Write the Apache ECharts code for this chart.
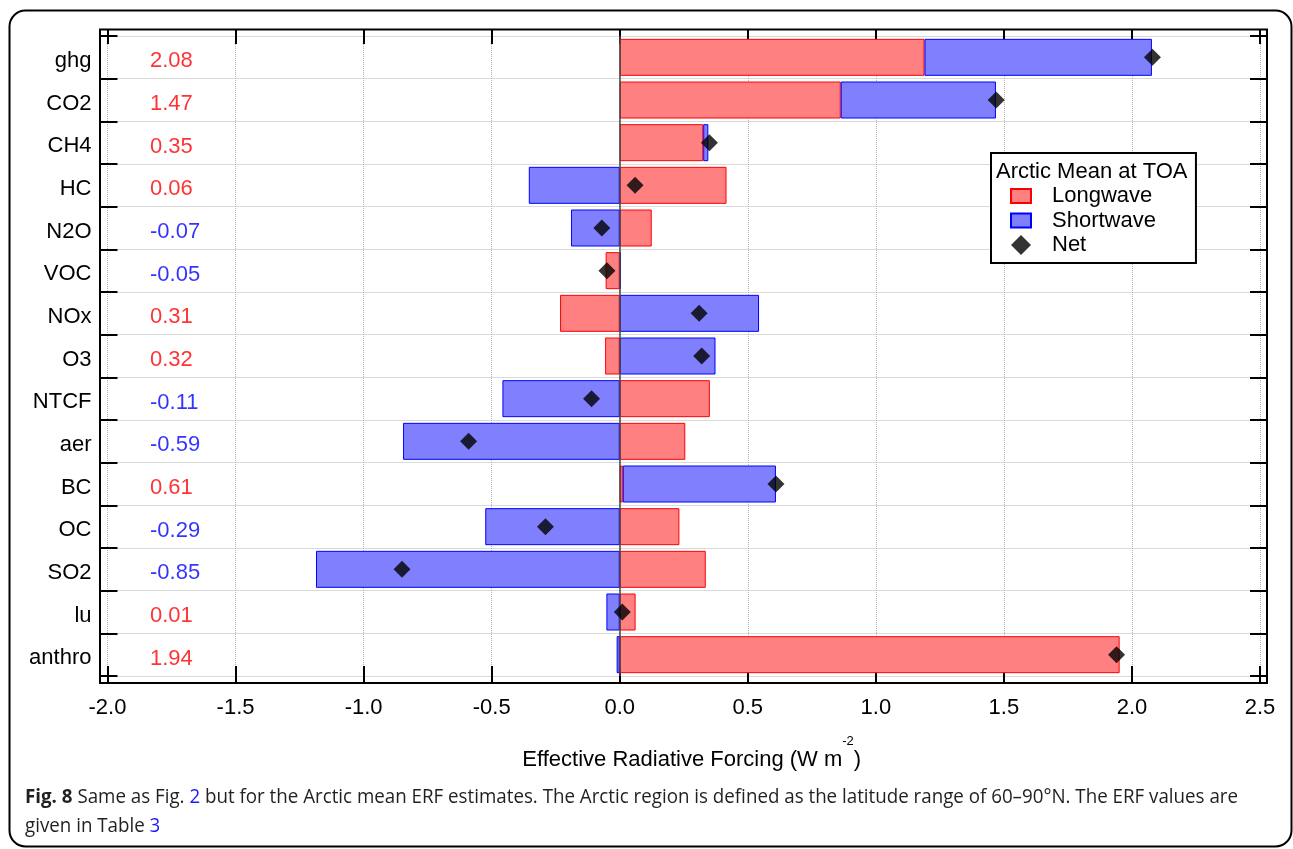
<!DOCTYPE html>
<html><head><meta charset="utf-8">
<script src="https://cdn.jsdelivr.net/npm/echarts@6/dist/echarts.min.js"></script>
<style>html,body{margin:0;padding:0;background:#fff}#c{width:1293px;height:849px}</style>
</head><body><div id="c"></div>
<script>
const categories = ['ghg','CO2','CH4','HC','N2O','VOC','NOx','O3','NTCF','aer','BC','OC','SO2','lu','anthro'];
const longwave  = [1.19, 0.863, 0.326, 0.417, 0.125, -0.055, -0.233, -0.057, 0.352, 0.256, 0.012, 0.233, 0.336, 0.062, 1.952];
const shortwave = [0.888, 0.606, 0.02, -0.355, -0.19, 0.005, 0.544, 0.374, -0.458, -0.846, 0.598, -0.525, -1.186, -0.052, -0.012];
const net       = [2.08, 1.47, 0.35, 0.06, -0.07, -0.05, 0.31, 0.32, -0.11, -0.59, 0.61, -0.29, -0.85, 0.01, 1.94];
const xTicks = [-2.0, -1.5, -1.0, -0.5, 0.0, 0.5, 1.0, 1.5, 2.0, 2.5];
const legendNames = ['Longwave', 'Shortwave', 'Net'];
const legendTitle = 'Arctic Mean at TOA';
const xAxisTitle = 'Effective Radiative Forcing (W m{sup|-2})';
const captionBold = 'Fig. 8';
const captionLine1 = ' Same as Fig. {l|2} but for the Arctic mean ERF estimates. The Arctic region is defined as the latitude range of 60–90°N. The ERF values are';
const captionLine1Plain = ' Same as Fig. 2 but for the Arctic mean ERF estimates. The Arctic region is defined as the latitude range of 60–90°N. The ERF values are';
const captionLine2 = 'given in Table {l|3}';

const FONT = 'Liberation Sans';
const CAPFONT = 'Open Sans';
const LABEL_X = -1.836;   // position of the value column (axis units)

function measure(text, font) {
  const c = document.createElement('canvas').getContext('2d');
  c.font = font; return c.measureText(text).width;
}
const capSize = 20;
const capW = measure(captionBold, 'bold ' + capSize + 'px "Open Sans"') + measure(captionLine1Plain, capSize + 'px "Open Sans"');
const capScale = 1213 / capW;

const chart = echarts.init(document.getElementById('c'), null, {renderer: 'canvas', width: 1293, height: 849});

const tickStyle = {color: '#000', width: 2};
const gridLine = {show: true, lineStyle: {color: '#b4b4b4', type: 'dotted', width: 1}};

chart.setOption({
  animation: false,
  backgroundColor: '#fff',
  textStyle: {fontFamily: FONT},
  grid: [
    {left: 107.5, top: 36, width: 1152.5, height: 640, containLabel: false},
    {left: 100, top: 29.5, width: 1167, height: 653.5, show: true, borderColor: '#000', borderWidth: 2, backgroundColor: 'transparent'}
  ],
  title: {
    text: legendTitle, left: 996, top: 161, padding: 0,
    textStyle: {fontSize: 22, fontWeight: 'normal', color: '#000', fontFamily: FONT}
  },
  legend: {
    data: [
      {name: legendNames[0], icon: 'path://M0,0h20v14h-20z'},
      {name: legendNames[1], icon: 'path://M0,0h20v14h-20z'},
      {name: legendNames[2], icon: 'diamond'}
    ],
    orient: 'vertical', left: 991, top: 153,
    padding: [32, 40, 7, 19],
    itemWidth: 20, itemHeight: 20, itemGap: 2.5, symbolKeepAspect: true,
    borderColor: '#000', borderWidth: 2, backgroundColor: '#fff',
    selectedMode: false,
    textStyle: {fontSize: 22, fontFamily: FONT, color: '#000', padding: [0, 0, 0, 16]}
  },
  xAxis: [
    {
      type: 'value', gridIndex: 0, position: 'bottom', offset: 7,
      min: xTicks[0], max: xTicks[xTicks.length - 1], interval: 0.5,
      axisLine: {show: false, onZero: false},
      axisTick: {show: true, inside: true, length: 17, lineStyle: tickStyle},
      axisLabel: {fontSize: 22, color: '#000', fontFamily: FONT, margin: 14, formatter: v => v.toFixed(1)},
      splitLine: gridLine,
      name: xAxisTitle, nameLocation: 'middle', nameGap: 52,
      nameTextStyle: {
        fontSize: 22, color: '#000', fontFamily: FONT, lineHeight: 50, padding: [0, 0, 0, 16],
        rich: {sup: {fontSize: 13, fontFamily: FONT, color: '#000', verticalAlign: 'top', lineHeight: 13}}
      }
    },
    {
      type: 'value', gridIndex: 0, position: 'top', offset: 7,
      min: xTicks[0], max: xTicks[xTicks.length - 1], interval: 0.5,
      axisLine: {show: false, onZero: false},
      axisTick: {show: true, inside: true, length: 15, lineStyle: tickStyle},
      axisLabel: {show: false}, splitLine: {show: false}
    },
    {type: 'value', gridIndex: 1, show: false}
  ],
  yAxis: [
    {
      type: 'category', gridIndex: 0, data: categories, inverse: true, position: 'left', offset: 7,
      axisLine: {show: false, onZero: false},
      axisTick: {show: true, inside: true, length: 17, lineStyle: tickStyle},
      axisLabel: {color: '#000', margin: 9, formatter: v => '{a|' + v + '}',
        rich: {a: {fontSize: 22, color: '#000', fontFamily: FONT, padding: [7, 0, 0, 0]}}},
      splitLine: gridLine
    },
    {
      type: 'category', gridIndex: 0, data: categories, inverse: true, position: 'right', offset: 7,
      axisLine: {show: false, onZero: false},
      axisTick: {show: true, inside: true, length: 17, lineStyle: tickStyle},
      axisLabel: {show: false}, splitLine: {show: false}
    },
    {type: 'value', gridIndex: 1, show: false}
  ],
  series: [
    {
      name: 'Longwave', type: 'bar', xAxisIndex: 0, yAxisIndex: 0, stack: 'erf', barWidth: 37,
      data: longwave,
      itemStyle: {color: '#ff8080', borderColor: '#ff0000', borderWidth: 1},
      markLine: {
        silent: true, symbol: ['none', 'none'], label: {show: false},
        lineStyle: {color: '#444', width: 1.5, type: 'solid'},
        data: [{xAxis: 0}]
      }
    },
    {
      name: 'Shortwave', type: 'bar', xAxisIndex: 0, yAxisIndex: 0, stack: 'erf', barWidth: 37,
      data: shortwave,
      itemStyle: {color: '#8080ff', borderColor: '#0000ff', borderWidth: 1}
    },
    {
      name: 'Net', type: 'scatter', xAxisIndex: 0, yAxisIndex: 0, z: 5,
      symbol: 'diamond', symbolSize: 17,
      itemStyle: {color: '#000'},
      data: net.map((v, i) => [v, categories[i]])
    },
    {
      name: 'values', type: 'scatter', xAxisIndex: 0, yAxisIndex: 0, silent: true,
      symbolSize: 1, itemStyle: {color: 'transparent'},
      label: {show: true, position: 'right', distance: 0, offset: [0, 4], fontSize: 22, fontFamily: FONT,
        formatter: p => net[p.dataIndex].toFixed(2)},
      data: net.map((v, i) => ({value: [LABEL_X, categories[i]], label: {color: v < 0 ? '#0000ff' : '#ff0000'}}))
    }
  ],
  graphic: [
    {type: 'rect', silent: true, z: -10,
      shape: {x: 9.5, y: 10.5, width: 1282, height: 836, r: 16},
      style: {fill: 'none', stroke: '#000', lineWidth: 2}},
    {type: 'text', silent: true, x: 25, y: 797.5, scaleX: capScale,
      style: {text: '{b|' + captionBold + '}' + captionLine1, fontSize: capSize, fontFamily: CAPFONT, fill: '#231f20',
        verticalAlign: 'middle',
        rich: {b: {fontWeight: 'bold', fontSize: capSize, fontFamily: CAPFONT, fill: '#231f20'},
               l: {fontSize: capSize, fontFamily: CAPFONT, fill: '#1a1aff'}}}},
    {type: 'text', silent: true, x: 25, y: 826.5, scaleX: capScale,
      style: {text: captionLine2, fontSize: capSize, fontFamily: CAPFONT, fill: '#231f20',
        verticalAlign: 'middle',
        rich: {l: {fontSize: capSize, fontFamily: CAPFONT, fill: '#1a1aff'}}}}
  ]
});
</script>
</body></html>
